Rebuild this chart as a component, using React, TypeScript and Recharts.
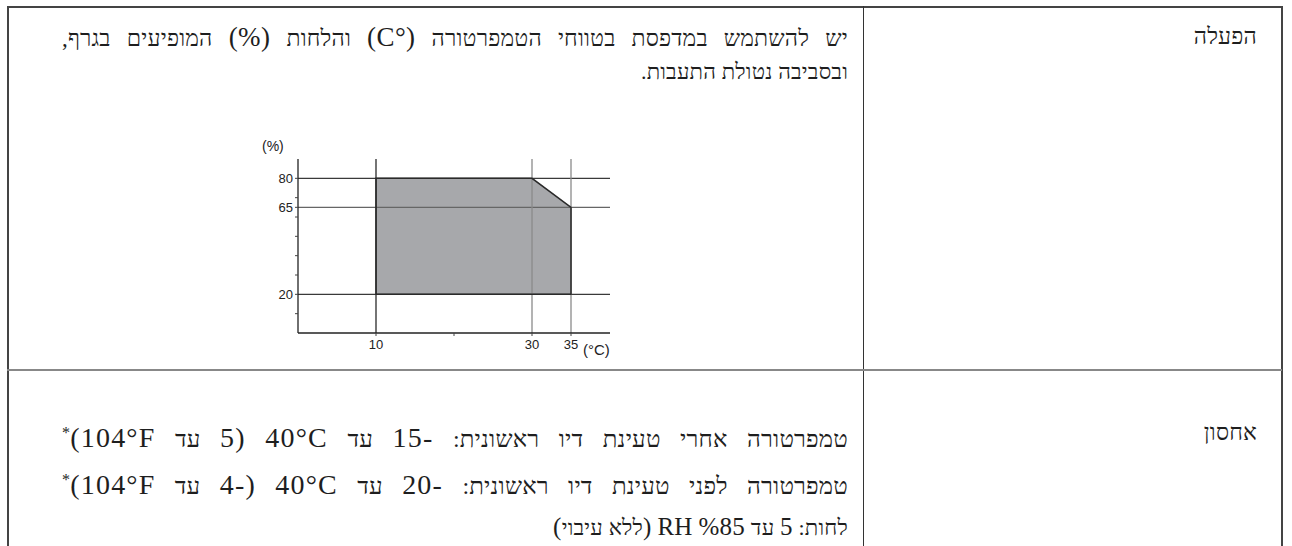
import React from 'react';
import { ComposedChart, Area, Line, XAxis, YAxis, ReferenceLine } from 'recharts';

// Operating envelope: temperature (°C) vs humidity (%)
const envelopeTop = [
  { t: 10, h: 80 },
  { t: 30, h: 80 },
  { t: 35, h: 65 },
];
const envelopeBase = 20;
const envelopeOutline = [
  { t: 10, h: 20 },
  { t: 10, h: 80 },
  { t: 30, h: 80 },
  { t: 35, h: 65 },
  { t: 35, h: 20 },
  { t: 10, h: 20 },
];
const humidityGuides = [80, 65, 20];
const temperatureGuides = [10, 30, 35];
const xTicks = [10, 20, 30, 35];
const xTickLabels = [10, 30, 35];
const yTicks = [10, 20, 30, 40, 50, 60, 65, 70, 80];
const yTickLabels = [20, 65, 80];
const xDomain = [0, 40];
const yDomain = [0, 90];

const row1Label = 'הפעלה';
const row1Lines = [
  'יש להשתמש במדפסת בטווחי הטמפרטורה (°C) והלחות (%) המופיעים בגרף,',
  'ובסביבה נטולת התעבות.',
];
const row2Label = 'אחסון';
const row2Lines = [
  { text: 'טמפרטורה אחרי טעינת דיו ראשונית: -15 עד 40°C (5 עד 104°F)', star: true, full: true },
  { text: 'טמפרטורה לפני טעינת דיו ראשונית: -20 עד 40°C (-4 עד 104°F)', star: true, full: true },
  { text: 'לחות: 5 עד %85 RH (ללא עיבוי)', star: false, full: false },
];

const AXIS_FONT = '"Liberation Sans Narrow", "Arial Narrow", "Liberation Sans", Arial, sans-serif';
const TEXT_FONT = '"Liberation Serif", "DejaVu Sans Condensed", "DejaVu Sans", serif';

const YTick = (props: any) => {
  const { x, y, payload } = props;
  if (!yTickLabels.includes(payload.value)) return <g />;
  return (
    <text x={x} y={y} dy="0.36em" textAnchor="end" fontSize={13} fontFamily={AXIS_FONT} fill="#222">
      {payload.value}
    </text>
  );
};

const XTick = (props: any) => {
  const { x, y, payload } = props;
  if (!xTickLabels.includes(payload.value)) return <g />;
  return (
    <text x={x} y={y} dy="0.72em" textAnchor="middle" fontSize={13} fontFamily={AXIS_FONT} fill="#222">
      {payload.value}
    </text>
  );
};

const rich = (s: string, latinSize: number, latinSpacing: number) =>
  s.split(/([0-9A-Za-z°%()\-]+)/).map((part, i) =>
    i % 2 === 1 ? (
      <span key={i} style={{ fontSize: latinSize, letterSpacing: latinSpacing }}>
        {part}
      </span>
    ) : (
      <React.Fragment key={i}>{part}</React.Fragment>
    )
  );

const TEXT_LEFT = 62;
const TEXT_RIGHT = 848;

const baseText: React.CSSProperties = {
  position: 'absolute',
  direction: 'rtl',
  fontFamily: TEXT_FONT,
  fontStretch: 'condensed',
  fontSize: 23,
  letterSpacing: 0.2,
  lineHeight: '32px',
  color: '#1e1e1e',
};

const naturalLine = (top: number, right: number, size = 23): React.CSSProperties => ({
  ...baseText,
  fontSize: size,
  right: 1292 - right,
  top,
  whiteSpace: 'nowrap',
});

const fullLine = (top: number, size = 23): React.CSSProperties => ({
  ...baseText,
  fontSize: size,
  left: TEXT_LEFT,
  width: TEXT_RIGHT - TEXT_LEFT,
  top,
  height: 32,
  textAlign: 'justify',
  textAlignLast: 'justify',
});

export default function App() {
  return (
    <div
      style={{
        position: 'absolute',
        left: 0,
        top: 0,
        width: 1292,
        height: 546,
        overflow: 'hidden',
        background: '#fff',
      }}
    >
      {/* table borders */}
      <div style={{ position: 'absolute', left: 7, top: 6, width: 1275, height: 1.5, background: '#444' }} />
      <div style={{ position: 'absolute', left: 7, top: 6, width: 1.5, height: 540, background: '#444' }} />
      <div style={{ position: 'absolute', left: 1281, top: 6, width: 1.5, height: 540, background: '#444' }} />
      <div style={{ position: 'absolute', left: 862.5, top: 6, width: 1.5, height: 540, background: '#333' }} />
      <div style={{ position: 'absolute', left: 7, top: 369, width: 1275, height: 2, background: '#888' }} />

      {/* row 1 */}
      <div style={naturalLine(21, 1257)}>{row1Label}</div>
      <div style={fullLine(21)}>{rich(row1Lines[0], 27, 0.4)}</div>
      <div style={naturalLine(56, TEXT_RIGHT, 22)}>{rich(row1Lines[1], 26, 0.4)}</div>

      {/* row 2 */}
      <div style={naturalLine(417, 1257)}>{row2Label}</div>
      {row2Lines.map((l, i) => (
        <div
          key={i}
          style={l.full ? fullLine(417 + i * 47, 24) : naturalLine(417 + i * 47, TEXT_RIGHT, 22)}
        >
          {l.full ? rich(l.text, 28, 1.2) : rich(l.text, 25, 0.3)}
          {l.star ? <sup style={{ fontSize: 16 }}>*</sup> : null}
        </div>
      ))}

      {/* axis unit labels */}
      <div
        style={{
          position: 'absolute',
          left: 262,
          top: 137,
          fontFamily: AXIS_FONT,
          fontSize: 14,
          lineHeight: '18px',
          color: '#222',
        }}
      >
        (%)
      </div>
      <div
        style={{
          position: 'absolute',
          left: 583,
          top: 341,
          fontFamily: AXIS_FONT,
          fontSize: 15,
          lineHeight: '18px',
          color: '#222',
        }}
      >
        (°C)
      </div>

      {/* chart */}
      <div style={{ position: 'absolute', left: 250, top: 150, width: 380, height: 220 }}>
        <ComposedChart width={380} height={220} margin={{ top: 9, right: 20, bottom: 7, left: 8 }}>
          <XAxis
            type="number"
            dataKey="t"
            domain={xDomain}
            ticks={xTicks}
            interval={0}
            tickSize={3}
            tickMargin={4}
            tick={<XTick />}
            axisLine={{ stroke: '#222', strokeWidth: 1.3 }}
            tickLine={{ stroke: '#444' }}
            height={30}
            allowDataOverflow
          />
          <YAxis
            type="number"
            dataKey="h"
            domain={yDomain}
            ticks={yTicks}
            interval={0}
            tickSize={3}
            tickMargin={2}
            tick={<YTick />}
            axisLine={{ stroke: '#222', strokeWidth: 1.3 }}
            tickLine={{ stroke: '#444' }}
            width={40}
            allowDataOverflow
          />
          <Area
            data={envelopeTop}
            dataKey="h"
            type="linear"
            baseValue={envelopeBase}
            fill="#a7a8ab"
            fillOpacity={1}
            stroke="none"
            dot={false}
            activeDot={false}
            isAnimationActive={false}
          />
          {humidityGuides.map((v) => (
            <ReferenceLine key={'h' + v} y={v} stroke={v === 65 ? '#666' : '#3a3a3a'} strokeWidth={1.2} />
          ))}
          {temperatureGuides.map((v) => (
            <ReferenceLine key={'t' + v} x={v} stroke={v === 10 ? '#2a2a2a' : '#8a8a8a'} strokeWidth={1.3} />
          ))}
          <Line
            data={envelopeOutline}
            dataKey="h"
            type="linear"
            stroke="#2a2a2a"
            strokeWidth={1.5}
            dot={false}
            activeDot={false}
            isAnimationActive={false}
          />
        </ComposedChart>
      </div>
    </div>
  );
}
